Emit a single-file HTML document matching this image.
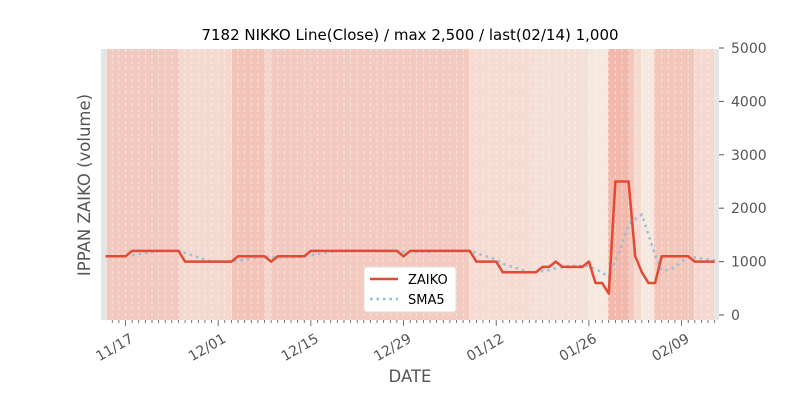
<!DOCTYPE html>
<html><head><meta charset="utf-8"><style>
body{margin:0;background:#fff;width:800px;height:400px;overflow:hidden;font-family:"Liberation Sans","DejaVu Sans",sans-serif}
</style></head><body>
<svg id="s" width="800" height="400" xmlns="http://www.w3.org/2000/svg" font-family="DejaVu Sans, Liberation Sans, sans-serif">
<rect x="101" y="49" width="618" height="271" fill="#e5e5e5"/>
<g id="bands"></g>
<g id="grid"></g>
<g id="axes"></g>
<polyline id="sma" fill="none" stroke="#8fbcd8" stroke-width="2.5" stroke-dasharray="2.5,4" opacity="0.9"/>
<polyline id="zk" fill="none" stroke="#e24a33" stroke-width="2.5" stroke-linejoin="round"/>
<text x="410" y="40" text-anchor="middle" font-size="15" fill="#000">7182 NIKKO Line(Close) / max 2,500 / last(02/14) 1,000</text>
<text transform="translate(90,185) rotate(-90)" text-anchor="middle" font-size="16.5" fill="#555">IPPAN ZAIKO (volume)</text>
<text x="410" y="382" text-anchor="middle" font-size="16.5" fill="#555">DATE</text>
<g>
<rect x="364" y="267" width="92" height="45" rx="3" fill="#fff" stroke="#ddd"/>
<line x1="370" y1="279" x2="398" y2="279" stroke="#e24a33" stroke-width="2.5"/>
<text x="408" y="284" font-size="13" fill="#000">ZAIKO</text>
<line x1="370" y1="299" x2="398" y2="299" stroke="#8fbcd8" stroke-width="2.5" stroke-dasharray="2.5,4"/>
<text x="408" y="304" font-size="13" fill="#000">SMA5</text>
</g>
</svg>
<script>
const NS="http://www.w3.org/2000/svg";
function el(t,a,p){const e=document.createElementNS(NS,t);for(const k in a)e.setAttribute(k,a[k]);document.getElementById(p).appendChild(e);return e;}
const X=d=>125.5+6.62*d, Y=v=>315-v*0.0534;
const bands=[[107,179,"#f2c9bf"],[179,232,"#f4d9d0"],[232,265,"#f2c3b8"],[265,271,"#f4d6cd"],[271,469,"#f2cac0"],[469,530,"#f5dbd2"],[530,588,"#f5e0d8"],[588,608,"#f4e8df"],[608,629,"#f2b8ac"],[629,634,"#f3c8bd"],[634,641,"#f5d8cf"],[641,654,"#f5e8df"],[654,694,"#f3c6bb"],[694,714,"#f5d9d0"]];
bands.forEach(b=>el("rect",{x:b[0],y:49,width:b[1]-b[0],height:271,fill:b[2]},"bands"));
for(let d=-2;d<=89;d++){el("line",{x1:X(d),y1:49,x2:X(d),y2:320,stroke:"#fff","stroke-width":0.8,"stroke-dasharray":"3,3",opacity:0.6},"grid");
 el("line",{x1:X(d),y1:320,x2:X(d),y2:d%14==0?326:323,stroke:"#555","stroke-width":0.8},"axes");}
const lab=["11/17","12/01","12/15","12/29","01/12","01/26","02/09"];
lab.forEach((l,i)=>{const x=X(i*14);const t=el("text",{transform:`translate(${x+4},${333}) rotate(-30)`,"text-anchor":"end","font-size":14,fill:"#555","dominant-baseline":"hanging"},"axes");t.textContent=l;});
for(let v=0;v<=5000;v+=1000){el("line",{x1:719,y1:Y(v),x2:724,y2:Y(v),stroke:"#555"},"axes");const t=el("text",{x:731,y:Y(v)+5,"font-size":14,fill:"#555"},"axes");t.textContent=v;}
const segs=[[-3,0,1100],[1,8,1200],[9,16,1000],[17,21,1100],[22,22,1000],[23,27,1100],[28,41,1200],[42,42,1100],[43,52,1200],[53,56,1000],[57,62,800],[63,64,900],[65,65,1000],[66,69,900],[70,70,1000],[71,72,600],[73,73,400],[74,76,2500],[77,77,1100],[78,78,800],[79,80,600],[81,85,1100],[86,89,1000]];
const data=[];segs.forEach(s=>{for(let d=s[0];d<=s[1];d++)data.push([d,s[2]]);});
document.getElementById("zk").setAttribute("points",data.map(p=>X(p[0]).toFixed(1)+","+Y(p[1]).toFixed(1)).join(" "));
const sm=[];for(let i=4;i<data.length;i++){let s=0;for(let j=0;j<5;j++)s+=data[i-j][1];sm.push([data[i][0],s/5]);}
document.getElementById("sma").setAttribute("points",sm.map(p=>X(p[0]).toFixed(1)+","+Y(p[1]).toFixed(1)).join(" "));
</script>
</body></html>
